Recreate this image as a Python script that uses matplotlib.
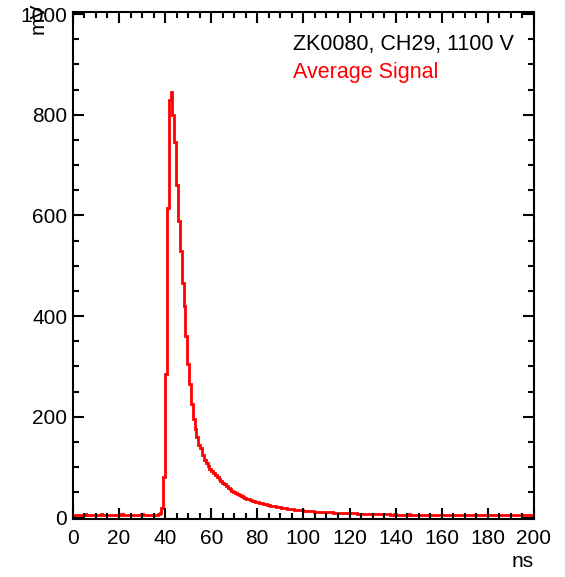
import numpy as np
import matplotlib
matplotlib.use('Agg')
from matplotlib import pyplot as plt
from matplotlib.ticker import MultipleLocator

# average PMT signal, 0.8 ns bins from 0 to 200 ns (mV)
bin_width_ns = 0.8
baseline_mv = [5, 5, 4, 5, 5, 5, 6, 5, 5, 5, 4, 5, 5, 5, 5, 6, 5, 5, 5, 5, 4, 5, 5, 5,
               5, 5, 6, 5, 5, 5, 5, 4, 5, 5, 5, 5, 5, 6, 5, 5, 5, 5, 5, 4, 5, 5, 6, 8]
pulse_mv = [18, 80, 285, 615, 830, 845, 800, 745, 660, 590, 530, 465, 420, 360, 305,
            265, 225, 195, 175, 160, 145, 138, 125, 115, 108, 102, 97, 92, 88, 84, 80,
            77, 73, 69, 66, 62, 59, 56, 53, 51, 48, 46, 44, 42, 41, 39, 37, 36, 34, 33,
            32, 31, 30, 29, 28, 27, 26, 25, 24, 23, 22, 22, 21, 20, 20, 19, 18, 18, 17,
            17, 16, 16, 15, 15, 14, 14, 14, 13, 13, 13, 12, 12, 12, 11, 11, 11, 11, 11,
            10, 10, 10, 10, 10, 9, 9, 9, 9, 9, 9, 8, 8, 8, 8, 8, 8, 8, 7, 7, 7, 7, 7, 7,
            7, 7, 6, 6, 6, 6, 6, 6, 6, 6, 6]
tail_mv = [6, 5, 5, 6, 5, 5, 5, 5, 5, 5, 5, 6, 5, 5, 5, 5, 5, 5, 5, 5, 5, 5, 5, 5, 5,
           5, 5, 5, 5, 5, 5, 5, 5, 5, 5, 5, 5, 5, 5, 5, 5, 5, 5, 5, 5, 5, 5, 5, 5, 5,
           5, 5, 5, 5, 5, 5, 5, 5, 5, 5, 5, 5, 5, 5, 5, 5, 5, 5, 5, 5, 5, 5, 5, 5, 5,
           5, 5, 5, 5]

label_run = 'ZK0080, CH29, 1100 V'
label_signal = 'Average Signal'


def plot_average_signal():
    signal = np.array(baseline_mv + pulse_mv + tail_mv, dtype=float)
    edges = np.arange(len(signal) + 1) * bin_width_ns

    plt.rcParams['font.family'] = ['Liberation Sans', 'DejaVu Sans']
    fig = plt.figure(figsize=(5.65, 5.77), dpi=100)
    ax = fig.add_axes([0.129, 0.1005, 0.816, 0.8785])

    ax.stairs(signal, edges, baseline=None, color='#ff0000', linewidth=2.0)

    ax.set_xlim(0, 200)
    ax.set_ylim(-3, 1004)
    ax.xaxis.set_major_locator(MultipleLocator(20))
    ax.xaxis.set_minor_locator(MultipleLocator(5))
    ax.yaxis.set_major_locator(MultipleLocator(200))
    ax.yaxis.set_minor_locator(MultipleLocator(50))
    ax.tick_params(which='both', direction='in', top=True, right=True, width=1.5,
                   labelsize=15)
    ax.tick_params(which='major', length=8)
    ax.tick_params(which='minor', length=4.5)
    ax.tick_params(axis='x', pad=7)
    ax.tick_params(axis='y', pad=4)
    for spine in ax.spines.values():
        spine.set_linewidth(1.5)

    fig.text(0.945, 0.026, 'ns', ha='right', va='center', fontsize=15)
    # ROOT puts the y title at the top, over the 1000 label
    fig.text(0.068, 0.995, 'mV', ha='center', va='top', rotation=90, fontsize=15)

    ax.text(0.477, 0.936, label_run, transform=ax.transAxes, ha='left', va='center',
            fontsize=15.5)
    ax.text(0.477, 0.881, label_signal, transform=ax.transAxes, ha='left', va='center',
            fontsize=15.5, color='#ff0000')

    fig.savefig('out.png', dpi=100)


if __name__ == '__main__':
    plot_average_signal()
